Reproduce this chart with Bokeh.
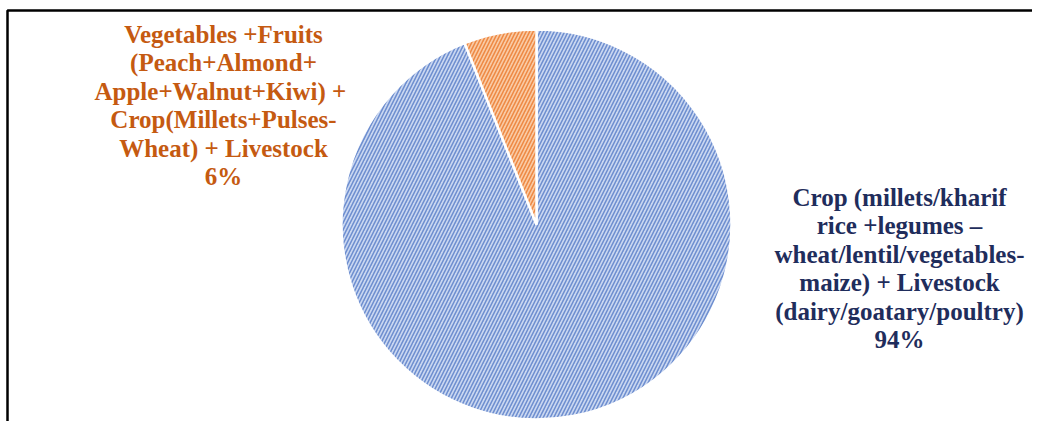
import numpy as np
from bokeh.plotting import figure
from bokeh.models import Range1d, ColumnDataSource
from bokeh.core.properties import value
from bokeh.embed import file_html
from bokeh.resources import INLINE

# ---- data ----
categories = [
    "Crop (millets/kharif\nrice +legumes \u2013\nwheat/lentil/vegetables-\nmaize) + Livestock\n(dairy/goatary/poultry)",
    "Vegetables +Fruits\n(Peach+Almond+\nApple+Walnut+Kiwi)  +\nCrop(Millets+Pulses-\nWheat) + Livestock",
]
shares = [94, 6]
pct_labels = ["94%", "6%"]

# ---- styles ----
fill_colors = ["#cbd8f1", "#f9cba6"]
hatch_colors = ["#6f8fd0", "#ee8a45"]
label_colors = ["#1f2d5c", "#c55a11"]

W, H = 1032, 421
p = figure(width=W, height=H, output_backend="svg", toolbar_location=None,
           x_range=Range1d(0, W), y_range=Range1d(0, H), min_border=0)
p.axis.visible = False
p.grid.visible = False
p.outline_line_color = None
p.background_fill_color = "white"

cx, cy, r = 536, H - 224, 195

tot = float(sum(shares))
fr = np.array(shares) / tot
ends = np.pi / 2 - 2 * np.pi * np.cumsum(fr)
starts = np.concatenate([[np.pi / 2], ends[:-1]])

src = ColumnDataSource(dict(start=starts, end=ends, fill=fill_colors, hatch=hatch_colors))
p.wedge(x=cx, y=cy, radius=r, start_angle="start", end_angle="end", direction="clock",
        fill_color="fill", hatch_color="hatch", hatch_pattern="/", hatch_scale=7,
        hatch_weight=1.6, line_color="white", line_width=2.5, source=src)

# labels
label_x = [899, 223]
label_y = [H - 268, H - 105]
texts = [c + "\n" + pc for c, pc in zip(categories, pct_labels)]
lsrc = ColumnDataSource(dict(x=label_x, y=label_y, t=texts, c=label_colors))
p.text(x="x", y="y", text="t", text_color="c", source=lsrc,
       text_font=value("Liberation Serif"), text_font_style="bold",
       text_font_size="25px", text_align="center", text_baseline="middle",
       text_line_height=1.05)

# border (top and left lines)
p.line(x=[7, 7, W + 5], y=[-5, H - 10, H - 10], line_color="black", line_width=2.5)

open("out.html", "w").write(file_html(p, INLINE))
